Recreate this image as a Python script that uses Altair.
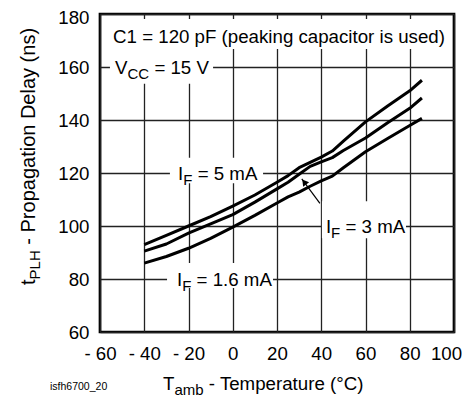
import altair as alt
import pandas as pd

# ---------------- data ----------------
temps = [-40, -30, -20, -10, 0, 10, 20, 25, 30, 35, 40, 45, 50, 60, 70, 80, 85.5]
tplh_5ma = [93, 96.5, 100, 103.5, 107.5, 111.7, 116.5, 119, 122, 124, 126, 128.3, 132, 139.3, 145.3, 151, 155]
tplh_3ma = [90.5, 93.2, 97.3, 100.8, 104.3, 109, 114, 116.5, 119.5, 122.5, 124.2, 125.8, 128.5, 133.2, 139, 144.4, 148.3]
tplh_1p6ma = [86, 88.5, 91.6, 95.3, 99.6, 104, 108.7, 111, 112.8, 115, 117, 118.8, 122, 128, 133, 137.9, 140.6]
series_names = ["5 mA", "3 mA", "1.6 mA"]

x_ticks = [-60, -40, -20, 0, 20, 40, 60, 80, 100]
y_ticks = [60, 80, 100, 120, 140, 160, 180]

# annotation anchors (data coordinates)
c1_anchor = (-54.1, 171.4)
vcc_anchor = (-53.2, 160)
if5_anchor = (-24.7, 120)
if3_anchor = (42.1, 100)
if16_anchor = (-25.2, 80)

# white boxes behind labels (x1, x2, y1, y2 in data coordinates)
box_x1 = [-58.2, -55.5, -28.4, 40.3, -29.7]
box_x2 = [98.7, -8.9, 13.7, 78.3, 18.2]
box_y1 = [166.8, 153.7, 116.1, 95.4, 76.6]
box_y2 = [178.1, 166.8, 125.8, 109.3, 86.0]

# arrow (tail -> head) for the I_F = 3 mA label
arrow_tail = (39.4, 108.5)
arrow_head = (31.2, 117.8)
arrow_tri = (32.3, 116.6)

FONT = "Liberation Sans"
MAIN = 18.7
SUB = 15

curves = pd.DataFrame({
    "x": temps * 3,
    "y": tplh_5ma + tplh_3ma + tplh_1p6ma,
    "series": sum([[n] * len(temps) for n in series_names], []),
})

xscale = alt.Scale(domain=[-60, 100], nice=False, zero=False)
yscale = alt.Scale(domain=[60, 180], nice=False, zero=False)
xaxis = alt.Axis(
    values=x_ticks, grid=True, domain=False, ticks=False, title=None,
    labelFontSize=MAIN, labelPadding=12, labelFlush=False, labelColor="black",
    labelFont=FONT, gridColor="#222222", gridWidth=1.3,
    labelOffset={"condition": {"test": "datum.value == 100", "value": -8}, "value": 0},
    labelExpr="datum.value < 0 ? '- ' + abs(datum.value) : datum.label",
)
yaxis = alt.Axis(
    values=y_ticks, grid=True, domain=False, ticks=False, title=None,
    labelFontSize=MAIN, labelPadding=11, labelColor="black", labelFont=FONT,
    labelFlush=False,
    labelOffset={"condition": {"test": "datum.value == 180", "value": 3}, "value": 0},
    gridColor="#222222", gridWidth=1.3,
)
X = lambda f: alt.X(f, scale=xscale, axis=xaxis)
Y = lambda f: alt.Y(f, scale=yscale, axis=yaxis)

lines = alt.Chart(curves).mark_line(
    color="black", strokeWidth=3, strokeJoin="round", strokeCap="butt"
).encode(x=X("x:Q"), y=Y("y:Q"), detail="series:N")

boxes_df = pd.DataFrame({"x": box_x1, "x2": box_x2, "y": box_y1, "y2": box_y2})
boxes = alt.Chart(boxes_df).mark_rect(fill="white").encode(
    x=X("x:Q"), x2="x2:Q", y=Y("y:Q"), y2="y2:Q",
)

arrow_df = pd.DataFrame({"x": [arrow_tail[0]], "y": [arrow_tail[1]],
                         "x2": [arrow_head[0]], "y2": [arrow_head[1]]})
arrow_line = alt.Chart(arrow_df).mark_rule(color="black", strokeWidth=1.2).encode(
    x=X("x:Q"), y=Y("y:Q"), x2="x2:Q", y2="y2:Q"
)
tri_df = pd.DataFrame({"x": [arrow_tri[0]], "y": [arrow_tri[1]]})
arrow_head_mark = alt.Chart(tri_df).mark_point(
    shape="triangle-up", filled=True, color="black", opacity=1, size=55, angle=323
).encode(x=X("x:Q"), y=Y("y:Q"))


def data_label(anchor, parts):
    """parts: list of (text, size, dx, dy)"""
    out = []
    df = pd.DataFrame({"x": [anchor[0]], "y": [anchor[1]]})
    for text, size, dx, dy in parts:
        out.append(alt.Chart(df).mark_text(
            text=text, font=FONT, fontSize=size, align="left", baseline="alphabetic",
            dx=dx, dy=dy, color="black"
        ).encode(x=X("x:Q"), y=Y("y:Q")))
    return out


def px_text(x, y, text, size, angle=0, baseline="alphabetic"):
    return alt.Chart(pd.DataFrame({"a": [0]})).mark_text(
        text=text, font=FONT, fontSize=size, align="left", baseline=baseline,
        angle=angle, color="black"
    ).encode(x=alt.value(x), y=alt.value(y))


m_dy = 6.6
s_dy = 11.6
w_I = 0.278 * MAIN
w_F = 0.611 * SUB
w_V = 0.667 * MAIN
w_CC = 1.444 * SUB
w_sp = 0.278 * MAIN

texts = []
texts += data_label(c1_anchor, [("C1 = 120 pF (peaking capacitor is used)", MAIN, 0, m_dy)])
texts += data_label(vcc_anchor, [("V", MAIN, 0, m_dy), ("CC", SUB, w_V, s_dy),
                                 ("= 15 V", MAIN, w_V + w_CC + w_sp, m_dy)])
for anc, rest in [(if5_anchor, "= 5 mA"), (if3_anchor, "= 3 mA"), (if16_anchor, "= 1.6 mA")]:
    texts += data_label(anc, [("I", MAIN, 0, m_dy), ("F", SUB, w_I, s_dy),
                              (rest, MAIN, w_I + w_F + w_sp, m_dy)])

# axis titles (pixel positions relative to plot area)
XT_BASE = 376
texts.append(px_text(63, XT_BASE, "T", MAIN))
texts.append(px_text(63 + 0.611 * MAIN, XT_BASE + 4.5, "amb", SUB))
texts.append(px_text(63 + 0.611 * MAIN + 1.945 * SUB + w_sp, XT_BASE, "- Temperature (°C)", MAIN))

YT = 20
texts.append(px_text(-65, 271, "t", YT, angle=270))
texts.append(px_text(-60, 271 - 0.278 * YT, "PLH", SUB, angle=270))
texts.append(px_text(-65, 271 - 0.278 * YT - 1.945 * SUB - 0.278 * YT,
                     "- Propagation Delay (ns)", YT, angle=270))

texts.append(px_text(-50, 373, "isfh6700_20", 10.5, baseline="middle"))

chart = alt.layer(lines, boxes, arrow_line, arrow_head_mark, *texts).properties(
    width=354, height=318,
    background="white",
    autosize=alt.AutoSizeParams(type="none"),
    padding={"left": 92, "top": 6, "right": 8, "bottom": 65},
).configure_view(
    stroke="black", strokeWidth=2.7
)

chart.save("out.html", embed_options={"renderer": "svg", "actions": False})
